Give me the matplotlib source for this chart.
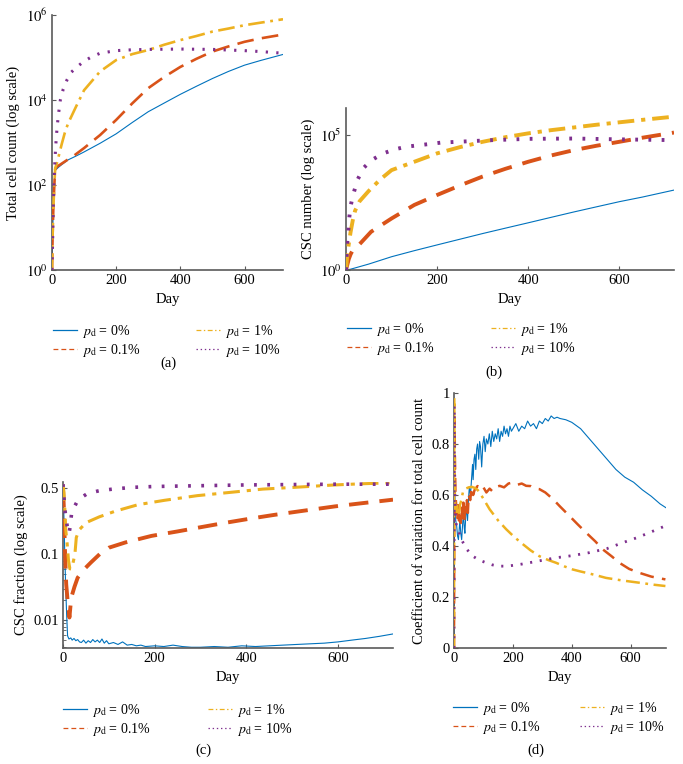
import numpy as np
import matplotlib
matplotlib.use("Agg")
import matplotlib.pyplot as plt
from matplotlib.lines import Line2D
from matplotlib.ticker import FixedLocator, FixedFormatter, NullLocator

plt.rcParams['font.family'] = ['Liberation Serif', 'DejaVu Serif']
plt.rcParams['mathtext.fontset'] = 'stix'
plt.rcParams['lines.scale_dashes'] = False

# ---------------- data ----------------
labels = [r"$p_{\mathrm{d}}$ = 0%", r"$p_{\mathrm{d}}$ = 0.1%", r"$p_{\mathrm{d}}$ = 1%", r"$p_{\mathrm{d}}$ = 10%"]
colors = ["#0072BD", "#D95319", "#EDB120", "#7E2F8E"]

# (a) total cell count
a0_days = [0, 2, 4, 6, 8, 10, 15, 20, 30, 50, 75, 100, 150, 200, 250, 300, 350, 400, 450, 500, 550, 600, 650, 720]
a0_vals = [1, 7, 25, 60, 130, 220, 240, 260, 300, 390, 480, 600, 960, 1600, 2950, 5300, 8500, 13600, 21000, 32000, 47000, 66000, 85000, 118000]
a1_days = [0, 2, 4, 6, 8, 10, 15, 25, 50, 70, 100, 150, 200, 250, 300, 350, 400, 450, 500, 550, 600, 650, 720]
a1_vals = [1, 7, 25, 60, 130, 230, 270, 300, 400, 500, 740, 1500, 3400, 8300, 19000, 35000, 60000, 93000, 138000, 182000, 234000, 282000, 347000]
a2_days = [0, 2, 4, 6, 8, 10, 15, 20, 30, 40, 50, 75, 100, 150, 200, 250, 300, 350, 400, 450, 500, 550, 600, 650, 720]
a2_vals = [1, 7, 25, 60, 130, 250, 320, 450, 900, 1700, 2800, 7000, 17000, 47000, 87000, 120000, 150000, 200000, 257000, 320000, 407000, 480000, 575000, 660000, 794000]
a3_days = [0, 2, 4, 6, 8, 10, 13, 16, 20, 26, 35, 47, 60, 78, 100, 125, 150, 200, 250, 300, 400, 500, 600, 650, 720]
a3_vals = [1, 5, 30, 100, 250, 500, 1200, 2300, 4500, 10000, 18000, 30000, 45000, 60000, 82000, 105000, 126000, 145000, 152000, 155000, 158000, 155000, 145000, 138000, 126000]

# (b) CSC number
b0_days = [0, 10, 25, 50, 100, 150, 200, 250, 300, 350, 400, 450, 500, 550, 600, 650, 720]
b0_vals = [1, 1.07, 1.26, 1.66, 3.1, 5.2, 8.5, 13.8, 22.4, 35.5, 56, 89, 141, 219, 339, 500, 912]
b1_days = [0, 3, 6, 10, 15, 20, 30, 55, 100, 150, 200, 250, 300, 350, 400, 450, 500, 550, 600, 650, 720]
b1_vals = [1, 1.6, 2.5, 3.8, 5.5, 7.1, 9.1, 26, 81, 257, 600, 1350, 2900, 5600, 10200, 17400, 27500, 40000, 56000, 79000, 123000]
b2_days = [0, 2, 4, 6, 10, 15, 20, 30, 50, 75, 100, 150, 200, 250, 300, 350, 400, 450, 500, 550, 600, 650, 720]
b2_vals = [1, 2.5, 5, 8.9, 25, 71, 158, 355, 850, 2240, 5000, 10200, 20900, 35500, 56000, 83000, 115000, 151000, 190000, 240000, 295000, 363000, 479000]
b3_days = [0, 1.5, 2, 5, 7, 10, 14.6, 25, 38, 56, 82, 107, 133, 165, 210, 245, 320, 400, 500, 600, 720]
b3_vals = [1, 3.6, 7.2, 26, 81, 224, 525, 2140, 5900, 11700, 20900, 29500, 37000, 42700, 52500, 56000, 64500, 72000, 74000, 69000, 64500]

# (c) CSC fraction
c0_days = [0, 2, 4, 6, 8, 10, 13, 17, 20, 24, 28, 32, 36, 40, 45, 50, 55, 60, 65, 70, 75, 80, 85, 90, 95, 100,
           110, 120, 130, 140, 150, 160, 170, 180, 200, 220, 240, 260, 280, 300, 330, 360, 390, 420, 450, 480,
           510, 540, 570, 600, 630, 660, 690, 720]
c0_vals = [0.45, 0.25, 0.09, 0.03, 0.012, 0.0058, 0.0052, 0.0054, 0.0050, 0.0053, 0.0049, 0.0051, 0.0047, 0.0046,
           0.0050, 0.0045, 0.0049, 0.0046, 0.0051, 0.0047, 0.0050, 0.0046, 0.0052, 0.0045, 0.0049, 0.0044,
           0.0046, 0.0043, 0.0047, 0.0042, 0.0043, 0.0041, 0.0042, 0.0040, 0.0041, 0.0040, 0.0042, 0.0040,
           0.0039, 0.0039, 0.0040, 0.0039, 0.0041, 0.0040, 0.0041, 0.0042, 0.0043, 0.0044, 0.0045, 0.0047,
           0.0050, 0.0053, 0.0057, 0.0062]
c1_days = [0, 2, 4, 7, 10, 14, 18, 25, 32, 45, 61, 80, 100, 136, 193, 250, 293, 350, 407, 460, 518, 593, 650, 720]
c1_vals = [0.5, 0.3, 0.12, 0.035, 0.02, 0.011, 0.022, 0.032, 0.044, 0.058, 0.075, 0.1, 0.117, 0.133, 0.156, 0.174,
           0.19, 0.213, 0.237, 0.26, 0.285, 0.32, 0.345, 0.377]
c2_days = [0, 2, 4, 6, 9, 12, 15, 19, 23, 26, 29, 35, 50, 79, 114, 164, 221, 293, 364, 436, 507, 593, 650, 720]
c2_vals = [0.55, 0.45, 0.3, 0.18, 0.13, 0.08, 0.06, 0.06, 0.08, 0.1, 0.15, 0.18, 0.215, 0.248, 0.285, 0.334, 0.371,
           0.416, 0.45, 0.488, 0.51, 0.54, 0.555, 0.57]
c3_days = [0, 2, 4, 6, 9, 13, 16, 19, 33, 54, 80, 112, 155, 200, 300, 400, 500, 600, 720]
c3_vals = [0.55, 0.4, 0.3, 0.25, 0.2, 0.165, 0.2, 0.28, 0.377, 0.44, 0.47, 0.49, 0.51, 0.52, 0.53, 0.54, 0.545, 0.55, 0.55]

# (d) coefficient of variation
d0_days = [0, 1, 2, 4, 6, 9, 12, 15, 18, 20, 23, 26, 29, 32, 35, 37, 40, 43, 46, 49, 52, 56, 60, 63, 65, 68, 71,
           74, 77, 80, 84, 87, 90, 94, 98, 102, 106, 110, 115, 120, 125, 130, 135, 140, 145, 150, 155, 160, 165,
           170, 175, 180, 185, 190, 195, 200, 210, 220, 230, 240, 250, 260, 270, 280, 290, 300, 310, 320, 330,
           340, 350, 360, 380, 400, 430, 460, 490, 520, 550, 580, 610, 640, 670, 700, 720]
d0_vals = [0, 0.35, 0.62, 0.55, 0.5, 0.48, 0.44, 0.425, 0.47, 0.50, 0.45, 0.425, 0.48, 0.53, 0.47, 0.45, 0.52,
           0.55, 0.50, 0.58, 0.63, 0.60, 0.67, 0.72, 0.66, 0.74, 0.76, 0.70, 0.78, 0.80, 0.74, 0.81, 0.79, 0.71,
           0.80, 0.83, 0.77, 0.82, 0.80, 0.84, 0.79, 0.85, 0.81, 0.84, 0.82, 0.86, 0.81, 0.85, 0.83, 0.87, 0.84,
           0.86, 0.83, 0.87, 0.85, 0.86, 0.88, 0.85, 0.87, 0.86, 0.89, 0.87, 0.88, 0.86, 0.89, 0.88, 0.90, 0.89,
           0.91, 0.90, 0.905, 0.90, 0.895, 0.885, 0.86, 0.82, 0.78, 0.74, 0.70, 0.67, 0.65, 0.62, 0.595, 0.565, 0.55]
d1_days = [0, 1, 2, 3, 5, 8, 11, 14, 17, 20, 23, 26, 29, 32, 35, 38, 41, 44, 47, 50, 55, 60, 65, 70, 80, 90, 100,
           110, 121, 130, 140, 155, 170, 185, 200, 215, 230, 245, 260, 275, 290, 310, 336, 360, 392, 420, 449,
           480, 505, 535, 562, 595, 629, 670, 718]
d1_vals = [0, 0.5, 0.9, 0.75, 0.6, 0.55, 0.5, 0.56, 0.5, 0.54, 0.49, 0.55, 0.51, 0.57, 0.5, 0.55, 0.52, 0.58,
           0.53, 0.6, 0.58, 0.63, 0.6, 0.62, 0.635, 0.62, 0.63, 0.61, 0.625, 0.615, 0.63, 0.636, 0.63, 0.645,
           0.649, 0.64, 0.645, 0.636, 0.635, 0.625, 0.623, 0.61, 0.584, 0.555, 0.518, 0.485, 0.452, 0.418,
           0.387, 0.36, 0.334, 0.31, 0.295, 0.28, 0.269]
d2_days = [0, 1, 2, 3, 5, 8, 11, 14, 17, 20, 25, 30, 40, 50, 60, 70, 80, 87, 100, 121, 150, 177, 205, 234, 260,
           290, 320, 347, 375, 403, 430, 460, 490, 516, 570, 629, 680, 718]
d2_vals = [0, 0.98, 0.7, 0.58, 0.54, 0.56, 0.52, 0.55, 0.53, 0.56, 0.58, 0.61, 0.625, 0.63, 0.632, 0.628, 0.62,
           0.61, 0.585, 0.544, 0.5, 0.466, 0.435, 0.407, 0.383, 0.36, 0.345, 0.334, 0.32, 0.308, 0.3, 0.292,
           0.283, 0.275, 0.265, 0.256, 0.248, 0.243]
d3_days = [0, 1, 2, 3, 5, 8, 14, 20, 31, 45, 64, 85, 110, 130, 155, 180, 200, 230, 268, 300, 347, 400, 460, 520,
           573, 620, 663, 718]
d3_vals = [0, 0.95, 0.75, 0.6, 0.52, 0.48, 0.466, 0.44, 0.413, 0.385, 0.36, 0.345, 0.334, 0.326, 0.321, 0.321,
           0.324, 0.329, 0.337, 0.344, 0.354, 0.362, 0.374, 0.39, 0.413, 0.432, 0.452, 0.479]

x_ticks = [0, 200, 400, 600]

# ---------------- figure ----------------
W, H = 683, 764
fig = plt.figure(figsize=(W / 100, H / 100), dpi=100)

FS = 10.5
LFS = 10.0
LPX = LFS * 100 / 72.0


def axes_px(left, right, top, bottom):
    return fig.add_axes([left / W, 1 - bottom / H, (right - left) / W, (bottom - top) / H])


SPINE = "#5a5a5a"


def style(ax):
    for s in ("top", "right"):
        ax.spines[s].set_visible(False)
    for s in ("left", "bottom"):
        ax.spines[s].set_color(SPINE)
        ax.spines[s].set_linewidth(1.2)
    ax.tick_params(direction="in", length=3, width=0.8, color=SPINE, labelsize=FS, pad=3)
    ax.set_xlim(0, 720)
    ax.xaxis.set_major_locator(FixedLocator(x_ticks))
    ax.set_xlabel("Day", fontsize=FS, labelpad=4)


def draw(ax, series, widths, dash_o, dash_y, dash_p):
    (x0, y0), (x1, y1), (x2, y2), (x3, y3) = series
    ax.plot(x0, y0, color=colors[0], lw=widths[0], solid_joinstyle="round", zorder=2)
    ax.plot(x1, y1, color=colors[1], lw=widths[1], linestyle=(0, dash_o), zorder=3)
    ax.plot(x2, y2, color=colors[2], lw=widths[2], linestyle=(0, dash_y), zorder=4)
    ax.plot(x3, y3, color=colors[3], lw=widths[3], linestyle=(0, dash_p), zorder=5)


def legend(ax, x, y, colsp_px):
    handles = [
        Line2D([], [], color=colors[0], lw=0.9),
        Line2D([], [], color=colors[1], lw=0.9, linestyle=(0, (3.5, 2.2))),
        Line2D([], [], color=colors[2], lw=0.9, linestyle=(0, (3.5, 1.8, 1, 1.8))),
        Line2D([], [], color=colors[3], lw=0.9, linestyle=(0, (1, 2))),
    ]
    leg = ax.legend(handles, labels, ncol=2, frameon=False, fontsize=LFS,
                    loc="upper left", bbox_to_anchor=(x / W, 1 - y / H),
                    bbox_transform=fig.transFigure, handlelength=24 / LPX, handletextpad=5 / LPX,
                    columnspacing=colsp_px / LPX, labelspacing=0.15, borderpad=0, borderaxespad=0)
    return leg


def caption(text, x, y):
    fig.text(x / W, 1 - y / H, text, ha="center", va="center", fontsize=FS)


# (a)
axa = axes_px(52, 283, 15, 270)
style(axa)
axa.set_yscale("log")
axa.set_ylim(1, 1e6)
axa.yaxis.set_major_locator(FixedLocator([1, 1e2, 1e4, 1e6]))
axa.yaxis.set_major_formatter(FixedFormatter([r"$10^0$", r"$10^2$", r"$10^4$", r"$10^6$"]))
axa.yaxis.set_minor_locator(NullLocator())
draw(axa, [(a0_days, a0_vals), (a1_days, a1_vals), (a2_days, a2_vals), (a3_days, a3_vals)],
     [0.8, 1.9, 1.9, 2.2], (12, 6), (12, 4, 2, 4), (1.6, 6.0))
axa.set_ylabel("Total cell count (log scale)", fontsize=FS, labelpad=4)
legend(axa, 53, 323, 55)
caption("(a)", 168, 363)

# (b)
axb = axes_px(346, 674, 108, 270)
style(axb)
axb.set_yscale("log")
axb.set_ylim(1, 1e6)
axb.yaxis.set_major_locator(FixedLocator([1, 1e5]))
axb.yaxis.set_major_formatter(FixedFormatter([r"$10^0$", r"$10^5$"]))
axb.yaxis.set_minor_locator(NullLocator())
draw(axb, [(b0_days, b0_vals), (b1_days, b1_vals), (b2_days, b2_vals), (b3_days, b3_vals)],
     [0.8, 2.8, 2.8, 2.8], (14, 8), (12, 5, 3, 5), (2.0, 7.5))
axb.set_ylabel("CSC number (log scale)", fontsize=FS, labelpad=4)
legend(axb, 347, 321, 56)
caption("(b)", 494, 372)


# (c) — axis with a compressed log spacing above 0.1 (as in the original)
L5 = np.log10(5.0)


def c_fwd(y):
    y = np.asarray(y, dtype=float)
    l = np.log10(np.clip(y, 1e-12, None))
    return np.where(l <= -1, l, -1 + (l + 1) / L5)


def c_inv(t):
    t = np.asarray(t, dtype=float)
    return np.where(t <= -1, 10.0 ** t, 10.0 ** (-1 + (t + 1) * L5))


axc = axes_px(63, 393, 482, 648)
style(axc)
axc.set_yscale("function", functions=(c_fwd, c_inv))
axc.set_ylim(0.0038, 0.58)
axc.yaxis.set_major_locator(FixedLocator([0.01, 0.1, 0.5]))
axc.yaxis.set_major_formatter(FixedFormatter(["0.01", "0.1", "0.5"]))
axc.yaxis.set_minor_locator(FixedLocator([0.004, 0.005, 0.006, 0.007, 0.008, 0.009,
                                          0.02, 0.03, 0.04, 0.05, 0.06, 0.07, 0.08, 0.09]))
axc.tick_params(axis="y", which="minor", direction="in", length=2, width=0.6, color=SPINE)
draw(axc, [(c0_days, c0_vals), (c1_days, c1_vals), (c2_days, c2_vals), (c3_days, c3_vals)],
     [0.8, 2.8, 2.2, 2.6], (14, 8), (12, 5, 3, 5), (2.0, 7.5))
axc.set_ylabel("CSC fraction (log scale)", fontsize=FS, labelpad=4)
legend(axc, 63, 702, 57)
caption("(c)", 203, 750)

# (d)
axd = axes_px(454, 666, 393, 648)
style(axd)
axd.set_ylim(0, 1)
axd.yaxis.set_major_locator(FixedLocator([0, 0.2, 0.4, 0.6, 0.8, 1]))
axd.yaxis.set_major_formatter(FixedFormatter(["0", "0.2", "0.4", "0.6", "0.8", "1"]))
draw(axd, [(d0_days, d0_vals), (d1_days, d1_vals), (d2_days, d2_vals), (d3_days, d3_vals)],
     [0.8, 1.8, 1.8, 2.0], (10, 6), (10, 4, 2, 4), (1.5, 5.5))
axd.set_ylabel("Coefficient of variation for total cell count", fontsize=FS, labelpad=4)
legend(axd, 453, 700, 39)
caption("(d)", 536, 750)

fig.savefig("out.png", dpi=100)
